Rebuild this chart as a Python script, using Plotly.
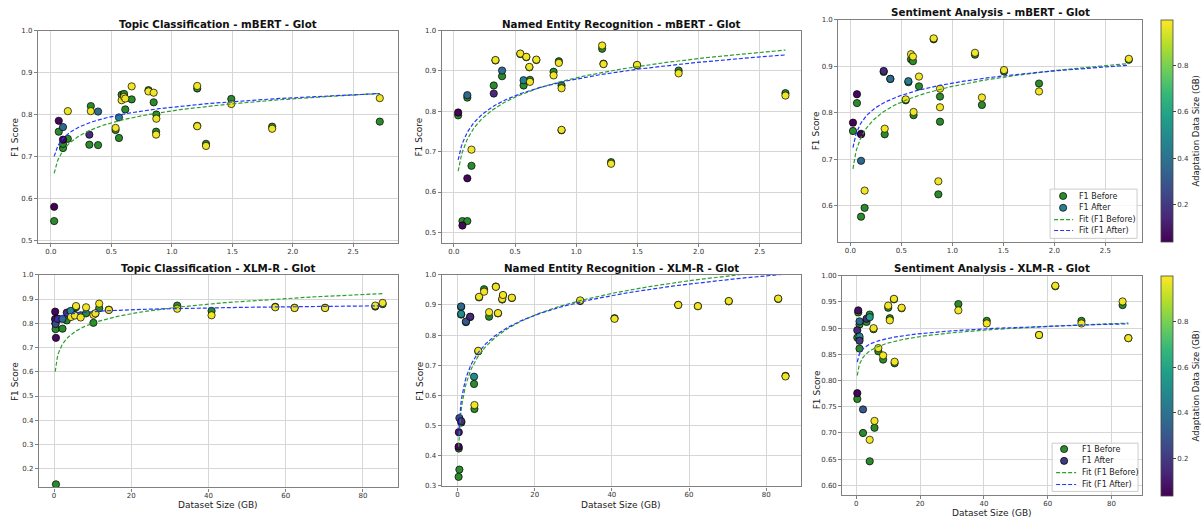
import numpy as np
import plotly.graph_objects as go

W, H = 1201, 522

# ---------------- data ----------------
# Topic Classification - mBERT
tc_mbert_x = [0.027, 0.065, 0.10, 0.10, 0.14, 0.318, 0.33, 0.39, 0.535, 0.563, 0.585, 0.605,
              0.615, 0.668, 0.807, 0.85, 0.872, 0.87, 1.21, 1.21, 1.283, 1.492, 1.83, 2.72]
tc_mbert_before = [0.546, 0.759, 0.720, 0.730, 0.742, 0.728, 0.820, 0.727, 0.763, 0.744, 0.847, 0.849,
                   0.812, 0.836, 0.858, 0.829, 0.800, 0.759, 0.862, 0.773, 0.730, 0.837, 0.771, 0.783]
tc_mbert_after = [0.580, 0.785, 0.770, 0.740, 0.808, 0.752, 0.808, 0.807, 0.768, 0.793, 0.834, 0.842,
                  0.838, 0.867, 0.855, 0.852, 0.790, 0.752, 0.868, 0.772, 0.725, 0.825, 0.766, 0.839]
tc_mbert_adapt = [0.04, 0.06, 0.36, 0.05, 0.98, 0.15, 0.98, 0.38, 0.98, 0.45, 0.98, 0.98,
                  0.98, 0.98, 0.98, 0.98, 0.98, 0.98, 0.98, 0.98, 0.98, 0.98, 0.98, 0.98]
tc_mbert_fit_before = [0.0412, 0.8088]   # y = a*ln(x) + b
tc_mbert_fit_after = [0.0325, 0.8175]

# Named Entity Recognition - mBERT
ner_mbert_x = [0.035, 0.07, 0.11, 0.11, 0.144, 0.326, 0.34, 0.394, 0.543, 0.57, 0.592, 0.617,
               0.622, 0.674, 0.815, 0.858, 0.88, 0.88, 1.212, 1.223, 1.285, 1.497, 1.837, 2.71]
ner_mbert_before = [0.790, 0.528, 0.528, 0.834, 0.665, 0.864, 0.926, 0.887, 0.942, 0.864, 0.934, 0.909,
                    0.878, 0.927, 0.898, 0.924, 0.864, 0.753, 0.955, 0.918, 0.674, 0.914, 0.901, 0.845]
ner_mbert_after = [0.797, 0.517, 0.634, 0.840, 0.705, 0.844, 0.927, 0.901, 0.943, 0.877, 0.935, 0.910,
                   0.873, 0.928, 0.889, 0.920, 0.857, 0.754, 0.963, 0.917, 0.670, 0.915, 0.894, 0.839]
ner_mbert_adapt = [0.04, 0.06, 0.05, 0.36, 0.98, 0.15, 0.98, 0.38, 0.98, 0.45, 0.98, 0.98,
                   0.98, 0.98, 0.98, 0.98, 0.98, 0.98, 0.98, 0.98, 0.98, 0.98, 0.98, 0.98]
ner_mbert_fit_before = [0.069, 0.883]
ner_mbert_fit_after = [0.0598, 0.880]

# Sentiment Analysis - mBERT
sa_mbert_x = [0.026, 0.065, 0.105, 0.105, 0.14, 0.327, 0.337, 0.392, 0.543, 0.569, 0.595, 0.614,
              0.62, 0.673, 0.817, 0.863, 0.879, 0.879, 1.222, 1.29, 1.507, 1.85, 2.73]
sa_mbert_before = [0.761, 0.821, 0.755, 0.577, 0.596, 0.888, 0.754, 0.873, 0.827, 0.866, 0.915, 0.911,
                   0.795, 0.857, 0.958, 0.625, 0.835, 0.781, 0.925, 0.817, 0.889, 0.863, 0.914]
sa_mbert_after = [0.779, 0.840, 0.754, 0.697, 0.633, 0.890, 0.766, 0.873, 0.829, 0.868, 0.926, 0.921,
                  0.802, 0.878, 0.960, 0.653, 0.852, 0.812, 0.929, 0.833, 0.892, 0.846, 0.916]
sa_mbert_adapt = [0.04, 0.06, 0.05, 0.36, 0.98, 0.15, 0.98, 0.38, 0.98, 0.45, 0.98, 0.98,
                  0.98, 0.98, 0.98, 0.98, 0.98, 0.98, 0.98, 0.98, 0.98, 0.98, 0.98]
sa_mbert_fit_before = [0.0486, 0.857]
sa_mbert_fit_after = [0.038, 0.864]

# Topic Classification - XLM-R
tc_xlmr_x = [0.3, 0.35, 0.5, 0.4, 1.0, 2.2, 3.3, 4.3, 4.4, 5.7, 5.4, 6.9, 8.3, 10.2, 10.7, 11.7,
             14.2, 31.9, 40.8, 57.3, 62.3, 70.2, 83.2, 85.1]
tc_xlmr_before = [0.818, 0.800, 0.136, 0.776, 0.818, 0.778, 0.812, 0.830, 0.830, 0.866, 0.835, 0.833,
                  0.841, 0.802, 0.840, 0.862, 0.856, 0.873, 0.851, 0.868, 0.864, 0.864, 0.869, 0.879]
tc_xlmr_after = [0.848, 0.816, 0.740, 0.797, 0.818, 0.818, 0.844, 0.851, 0.826, 0.871, 0.832, 0.824,
                 0.866, 0.835, 0.841, 0.881, 0.855, 0.860, 0.833, 0.866, 0.863, 0.863, 0.873, 0.884]
tc_xlmr_adapt = [0.05, 0.10, 0.06, 0.25, 0.15, 0.36, 0.15, 0.50, 0.98, 0.98, 0.98, 0.98,
                 0.98, 0.98, 0.98, 0.98, 0.98, 0.98, 0.98, 0.98, 0.98, 0.98, 0.98, 0.98]
tc_xlmr_fit_before = [0.057, 0.669]
tc_xlmr_fit_after = [0.011, 0.823]

# Named Entity Recognition - XLM-R
ner_xlmr_x = [0.3, 0.5, 0.35, 1.0, 0.95, 0.95, 2.2, 3.3, 4.3, 4.4, 5.4, 5.6, 6.9, 8.2, 9.95, 10.5,
              11.6, 11.8, 14.1, 31.8, 40.7, 57.2, 62.3, 70.3, 83.1, 85.0]
ner_xlmr_before = [0.330, 0.354, 0.424, 0.510, 0.893, 0.868, 0.843, 0.860, 0.638, 0.555, 0.746, 0.925,
                   0.952, 0.861, 0.961, 0.872, 0.918, 0.932, 0.923, 0.913, 0.856, 0.900, 0.896, 0.912,
                   0.920, 0.665]
ner_xlmr_after = [0.430, 0.525, 0.478, 0.514, 0.895, 0.870, 0.845, 0.861, 0.662, 0.568, 0.748, 0.927,
                  0.944, 0.876, 0.960, 0.873, 0.920, 0.933, 0.924, 0.915, 0.854, 0.900, 0.896, 0.913,
                  0.921, 0.663]
ner_xlmr_adapt = [0.05, 0.25, 0.10, 0.15, 0.36, 0.50, 0.30, 0.15, 0.50, 0.98, 0.98, 0.98,
                  0.98, 0.98, 0.98, 0.98, 0.98, 0.98, 0.98, 0.98, 0.98, 0.98, 0.98, 0.98, 0.98, 0.98]
ner_xlmr_fit_before = [0.1039, 0.555]
ner_xlmr_fit_after = [0.0944, 0.583]

# Sentiment Analysis - XLM-R
sa_xlmr_x = [0.3, 0.6, 0.3, 1.0, 1.0, 1.0, 2.1, 3.2, 4.2, 4.2, 5.4, 5.7, 6.9, 8.4, 10.0, 10.5,
             11.8, 12.0, 14.2, 32.0, 40.9, 57.3, 62.4, 70.6, 83.5, 85.3]
sa_xlmr_before = [0.882, 0.930, 0.765, 0.907, 0.861, 0.880, 0.700, 0.912, 0.926, 0.646, 0.898, 0.710,
                  0.856, 0.840, 0.939, 0.919, 0.955, 0.833, 0.938, 0.946, 0.914, 0.887, 0.980, 0.914,
                  0.944, 0.881]
sa_xlmr_after = [0.896, 0.934, 0.776, 0.913, 0.884, 0.876, 0.745, 0.918, 0.921, 0.687, 0.900, 0.723,
                 0.862, 0.848, 0.943, 0.915, 0.956, 0.836, 0.939, 0.934, 0.909, 0.887, 0.981, 0.909,
                 0.951, 0.881]
sa_xlmr_adapt = [0.15, 0.08, 0.05, 0.36, 0.50, 0.20, 0.30, 0.15, 0.55, 0.98, 0.98, 0.98,
                 0.98, 0.98, 0.98, 0.98, 0.98, 0.98, 0.98, 0.98, 0.98, 0.98, 0.98, 0.98, 0.98, 0.98]
sa_xlmr_fit_before = [0.0177, 0.831]
sa_xlmr_fit_after = [0.0129, 0.851]

adapt_min, adapt_max = 0.037, 1.0
titles = ["Topic Classification - mBERT - Glot", "Named Entity Recognition - mBERT - Glot",
          "Sentiment Analysis - mBERT - Glot", "Topic Classification - XLM-R - Glot",
          "Named Entity Recognition - XLM-R - Glot", "Sentiment Analysis - XLM-R - Glot"]
legend_labels = ["F1 Before", "F1 After", "Fit (F1 Before)", "Fit (F1 After)"]

# ---------------- styling / layout ----------------
FONT = "DejaVu Sans"
GREEN_PT = "#2b8a2b"
GREEN_LN = "#2ca02c"
BLUE_LN = "#2436ff"
FRAME = "#808080"
GRID = "#d6d6d6"

panels = [
    dict(x=tc_mbert_x, b=tc_mbert_before, a=tc_mbert_after, c=tc_mbert_adapt,
         fb=tc_mbert_fit_before, fa=tc_mbert_fit_after, box=(38, 27, 398, 243),
         xr=[-0.107, 2.868], yr=[0.493, 1.0], xd=0.5, xf=".1f", yd=0.1, yf=".1f", cax="coloraxis",
         ylab=(15, 135), xlab=None, tit=20),
    dict(x=ner_mbert_x, b=ner_mbert_before, a=ner_mbert_after, c=ner_mbert_adapt,
         fb=ner_mbert_fit_before, fa=ner_mbert_fit_after, box=(442, 27, 802, 243),
         xr=[-0.1, 2.84], yr=[0.473, 1.0], xd=0.5, xf=".1f", yd=0.1, yf=".1f", cax="coloraxis",
         ylab=(419, 135), xlab=None, tit=20),
    dict(x=sa_mbert_x, b=sa_mbert_before, a=sa_mbert_after, c=sa_mbert_adapt,
         fb=sa_mbert_fit_before, fa=sa_mbert_fit_after, box=(839, 16, 1143, 242),
         xr=[-0.118, 2.86], yr=[0.522, 1.0], xd=0.5, xf=".1f", yd=0.1, yf=".1f", cax="coloraxis",
         ylab=(817, 129), xlab=None, tit=8),
    dict(x=tc_xlmr_x, b=tc_xlmr_before, a=tc_xlmr_after, c=tc_xlmr_adapt,
         fb=tc_xlmr_fit_before, fa=tc_xlmr_fit_after, box=(39, 275, 398, 491),
         xr=[-3.9, 89], yr=[0.123, 1.0], xd=20, xf="d", yd=0.1, yf=".1f", cax="coloraxis2",
         ylab=(15, 383), xlab=(218, 509), tit=268),
    dict(x=ner_xlmr_x, b=ner_xlmr_before, a=ner_xlmr_after, c=ner_xlmr_adapt,
         fb=ner_xlmr_fit_before, fa=ner_xlmr_fit_after, box=(442, 275, 802, 490),
         xr=[-4.1, 89.1], yr=[0.298, 1.0], xd=20, xf="d", yd=0.1, yf=".1f", cax="coloraxis2",
         ylab=(420, 383), xlab=(622, 509), tit=268),
    dict(x=sa_xlmr_x, b=sa_xlmr_before, a=sa_xlmr_after, c=sa_xlmr_adapt,
         fb=sa_xlmr_fit_before, fa=sa_xlmr_fit_after, box=(843, 276, 1143, 499),
         xr=[-4.4, 89.6], yr=[0.581, 1.0], xd=20, xf="d", yd=0.05, yf=".2f", cax="coloraxis2",
         ylab=(818, 392), xlab=(993, 517), tit=268),
]


def px(xp):
    return xp / W


def py(yp):
    return 1 - yp / H


fig = go.Figure()
annotations = []
shapes = []
layout_axes = {}

for i, p in enumerate(panels, start=1):
    xa = "x" if i == 1 else f"x{i}"
    ya = "y" if i == 1 else f"y{i}"
    l, t, r, btm = p["box"]
    marker_common = dict(size=7.3, line=dict(color="black", width=0.7))
    fig.add_trace(go.Scatter(x=p["x"], y=p["b"], mode="markers", xaxis=xa, yaxis=ya,
                             marker=dict(color=GREEN_PT, **marker_common), showlegend=False,
                             name="F1 Before"))
    fig.add_trace(go.Scatter(x=p["x"], y=p["a"], mode="markers", xaxis=xa, yaxis=ya,
                             marker=dict(color=p["c"], coloraxis=p["cax"], **marker_common),
                             showlegend=False, name="F1 After"))
    xs = np.linspace(min(p["x"]), max(p["x"]), 300)
    for coef, col, nm in [(p["fb"], GREEN_LN, "Fit (F1 Before)"), (p["fa"], BLUE_LN, "Fit (F1 After)")]:
        fig.add_trace(go.Scatter(x=xs, y=coef[0] * np.log(xs) + coef[1], mode="lines",
                                 xaxis=xa, yaxis=ya, showlegend=False, name=nm,
                                 line=dict(color=col, width=1.2, dash="4px,2px")))
    axcommon = dict(showline=True, mirror=True, linecolor=FRAME, linewidth=1.2,
                    showgrid=True, gridcolor=GRID, gridwidth=1, zeroline=False,
                    ticks="outside", ticklen=3, tickcolor=FRAME,
                    tickfont=dict(family=FONT, size=7, color="#333"))
    layout_axes["xaxis" if i == 1 else f"xaxis{i}"] = dict(
        domain=[px(l), px(r)], range=p["xr"], anchor=ya, tick0=0, dtick=p["xd"],
        tickformat=p["xf"], ticklabelstandoff=-2, **axcommon)
    layout_axes["yaxis" if i == 1 else f"yaxis{i}"] = dict(
        domain=[py(btm), py(t)], range=p["yr"], anchor=xa, tick0=0, dtick=p["yd"],
        tickformat=p["yf"], **axcommon)
    annotations.append(dict(text=f"<b>{titles[i-1]}</b>", x=px((l + r) / 2), y=py(p["tit"]),
                            xref="paper", yref="paper", xanchor="center", yanchor="middle",
                            showarrow=False, font=dict(family=FONT, size=10.3, color="#111")))
    annotations.append(dict(text="F1 Score", x=px(p["ylab"][0]), y=py(p["ylab"][1]),
                            xref="paper", yref="paper", xanchor="center", yanchor="middle",
                            textangle=-90, showarrow=False,
                            font=dict(family=FONT, size=9, color="#222")))
    if p["xlab"]:
        annotations.append(dict(text="Dataset Size (GB)", x=px(p["xlab"][0]), y=py(p["xlab"][1]),
                                xref="paper", yref="paper", xanchor="center", yanchor="middle",
                                showarrow=False, font=dict(family=FONT, size=9, color="#222")))


def add_legend(box, rows, mark_x, line_x, text_x, after_color):
    x0, y0, x1, y1 = box
    shapes.append(dict(type="rect", xref="paper", yref="paper", x0=px(x0), x1=px(x1),
                       y0=py(y1), y1=py(y0), line=dict(color="#cccccc", width=1),
                       fillcolor="rgba(255,255,255,0.8)", layer="above"))
    cols = [GREEN_PT, after_color]
    for k in range(2):
        cy = rows[k]
        shapes.append(dict(type="circle", xref="paper", yref="paper",
                           x0=px(mark_x - 3.6), x1=px(mark_x + 3.6), y0=py(cy + 3.6), y1=py(cy - 3.6),
                           fillcolor=cols[k], line=dict(color="black", width=0.7), layer="above"))
    for k, col in zip((2, 3), (GREEN_LN, BLUE_LN)):
        cy = rows[k]
        shapes.append(dict(type="line", xref="paper", yref="paper", x0=px(line_x[0]), x1=px(line_x[1]),
                           y0=py(cy), y1=py(cy), line=dict(color=col, width=1.2, dash="4px,2px"),
                           layer="above"))
    for k in range(4):
        annotations.append(dict(text=legend_labels[k], x=px(text_x), y=py(rows[k]), xref="paper",
                                yref="paper", xanchor="left", yanchor="middle", showarrow=False,
                                font=dict(family=FONT, size=8, color="#222")))


add_legend((1051, 188, 1138, 238), [195, 207, 219, 230], 1064, (1055, 1074), 1078, "#26808e")
add_legend((1053, 446, 1139, 495), [452, 464, 476, 488], 1065, (1057, 1077), 1081, "#3d3a80")


def cbar(ytop, length):
    return dict(x=px(1162), xanchor="left", xpad=0, y=py(ytop), yanchor="top", ypad=0,
                len=length / H, lenmode="fraction", thickness=12, thicknessmode="pixels",
                tickvals=[0.2, 0.4, 0.6, 0.8], ticks="outside", ticklen=3, tickcolor="#444",
                tickfont=dict(family=FONT, size=7, color="#333"),
                title=dict(text="Adaptation Data Size (GB)", side="right",
                           font=dict(family=FONT, size=8.5, color="#222")),
                outlinewidth=0.8, outlinecolor="#444")


fig.update_layout(
    width=W, height=H, margin=dict(l=0, r=0, t=0, b=0),
    paper_bgcolor="white", plot_bgcolor="white", showlegend=False,
    font=dict(family=FONT),
    coloraxis=dict(colorscale="Viridis", cmin=adapt_min, cmax=adapt_max, colorbar=cbar(16, 225)),
    coloraxis2=dict(colorscale="Viridis", cmin=adapt_min, cmax=adapt_max, colorbar=cbar(276, 223)),
    annotations=annotations, shapes=shapes, **layout_axes,
)

fig.write_html("out.html", config={"displayModeBar": False},
               post_script="document.body.style.margin='0';document.body.style.overflow='hidden';")
